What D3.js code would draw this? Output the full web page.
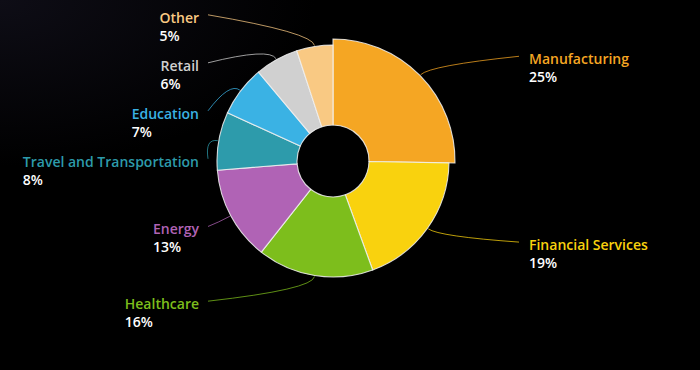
<!DOCTYPE html>
<html><head><meta charset="utf-8">
<script src="https://cdn.jsdelivr.net/npm/d3@7"></script>
<style>
html,body{margin:0;padding:0;background:#000;}
svg{display:block;}
</style></head>
<body>
<svg id="chart" width="700" height="370"></svg>
<script>
const categories = ["Manufacturing","Financial Services","Healthcare","Energy","Travel and Transportation","Education","Retail","Other"];
const values = [25,19,16,13,8,7,6,5];
const colors = ["#F5A623","#F9D20E","#7DBE1C","#B063B5","#2D9BAB","#3AB2E4","#D0D0D0","#F9C983"];
const highlighted = "Manufacturing";

const W = 700, H = 370;
const cx = 333, cy = 161, R = 116, RHi = 122, r0 = 36;
const labelR = 145, minGap = 48;

const svg = d3.select("#chart");
const defs = svg.append("defs");
const grad = defs.append("radialGradient").attr("id","bg").attr("cx","0%").attr("cy","0%").attr("r","45%");
grad.append("stop").attr("offset","0%").attr("stop-color","#0e0d16");
grad.append("stop").attr("offset","100%").attr("stop-color","#000000");
svg.append("rect").attr("width",W).attr("height",H).attr("fill","url(#bg)");

const data = categories.map((c,i)=>({name:c,value:values[i],color:colors[i]}));
const pie = d3.pie().value(d=>d.value).sort(null);
const arcs = pie(data);

const arcGen = d3.arc().innerRadius(r0);
const g = svg.append("g").attr("transform",`translate(${cx},${cy})`);

g.selectAll("path.slice").data(arcs).join("path")
  .attr("class","slice")
  .attr("d",d=>arcGen.outerRadius(d.data.name===highlighted?RHi:R)(d))
  .attr("fill",d=>d.data.color)
  .attr("stroke","#f2f2f2").attr("stroke-opacity",0.85).attr("stroke-width",1.1);

// label layout
const labels = arcs.map(d=>{
  const mid = (d.startAngle+d.endAngle)/2;
  const rr = d.data.name===highlighted?RHi:R;
  return {d, mid, rr, right: Math.sin(mid)>0, y: -labelR*Math.cos(mid)};
});
["left","right"].forEach(side=>{
  const grp = labels.filter(l=>(side==="right")===l.right).sort((a,b)=>a.y-b.y);
  for(let i=1;i<grp.length;i++){
    if(grp[i].y < grp[i-1].y+minGap) grp[i].y = grp[i-1].y+minGap;
  }
});

const lineEndLeft = 208-cx, lineEndRight = 519-cx;
const textLeft = 199-cx, textRight = 529-cx;

const path = l=>{
  const p = d3.path();
  const sx = Math.sin(l.mid), sy = -Math.cos(l.mid);
  p.moveTo(sx*(l.rr+1), sy*(l.rr+1));
  const ex = l.right?lineEndRight:lineEndLeft, ey = l.y-3;
  p.quadraticCurveTo(sx*(l.rr+14), sy*(l.rr+14), ex, ey);
  return p.toString();
};
g.selectAll("path.leader").data(labels).join("path")
  .attr("class","leader")
  .attr("d",path).attr("fill","none")
  .attr("stroke",l=>l.d.data.color).attr("stroke-opacity",0.75).attr("stroke-width",1);

const fontFam = "'Open Sans', Lato, sans-serif";
const lg = g.selectAll("g.lab").data(labels).join("g").attr("class","lab");
lg.each(function(l){
  const sel = d3.select(this);
  const name = sel.append("text").text(l.d.data.name)
    .attr("font-family",fontFam).attr("font-weight",600).attr("font-size",14)
    .attr("fill",l.d.data.color).attr("y",l.y+5);
  let x;
  if(l.right){ x = textRight; }
  else { x = textLeft - name.node().getComputedTextLength(); }
  name.attr("x",x);
  sel.append("text").text(l.d.data.value+"%")
    .attr("font-family",fontFam).attr("font-weight",600).attr("font-size",14)
    .attr("fill","#ffffff").attr("x",x).attr("y",l.y+23);
});
</script>
</body></html>
